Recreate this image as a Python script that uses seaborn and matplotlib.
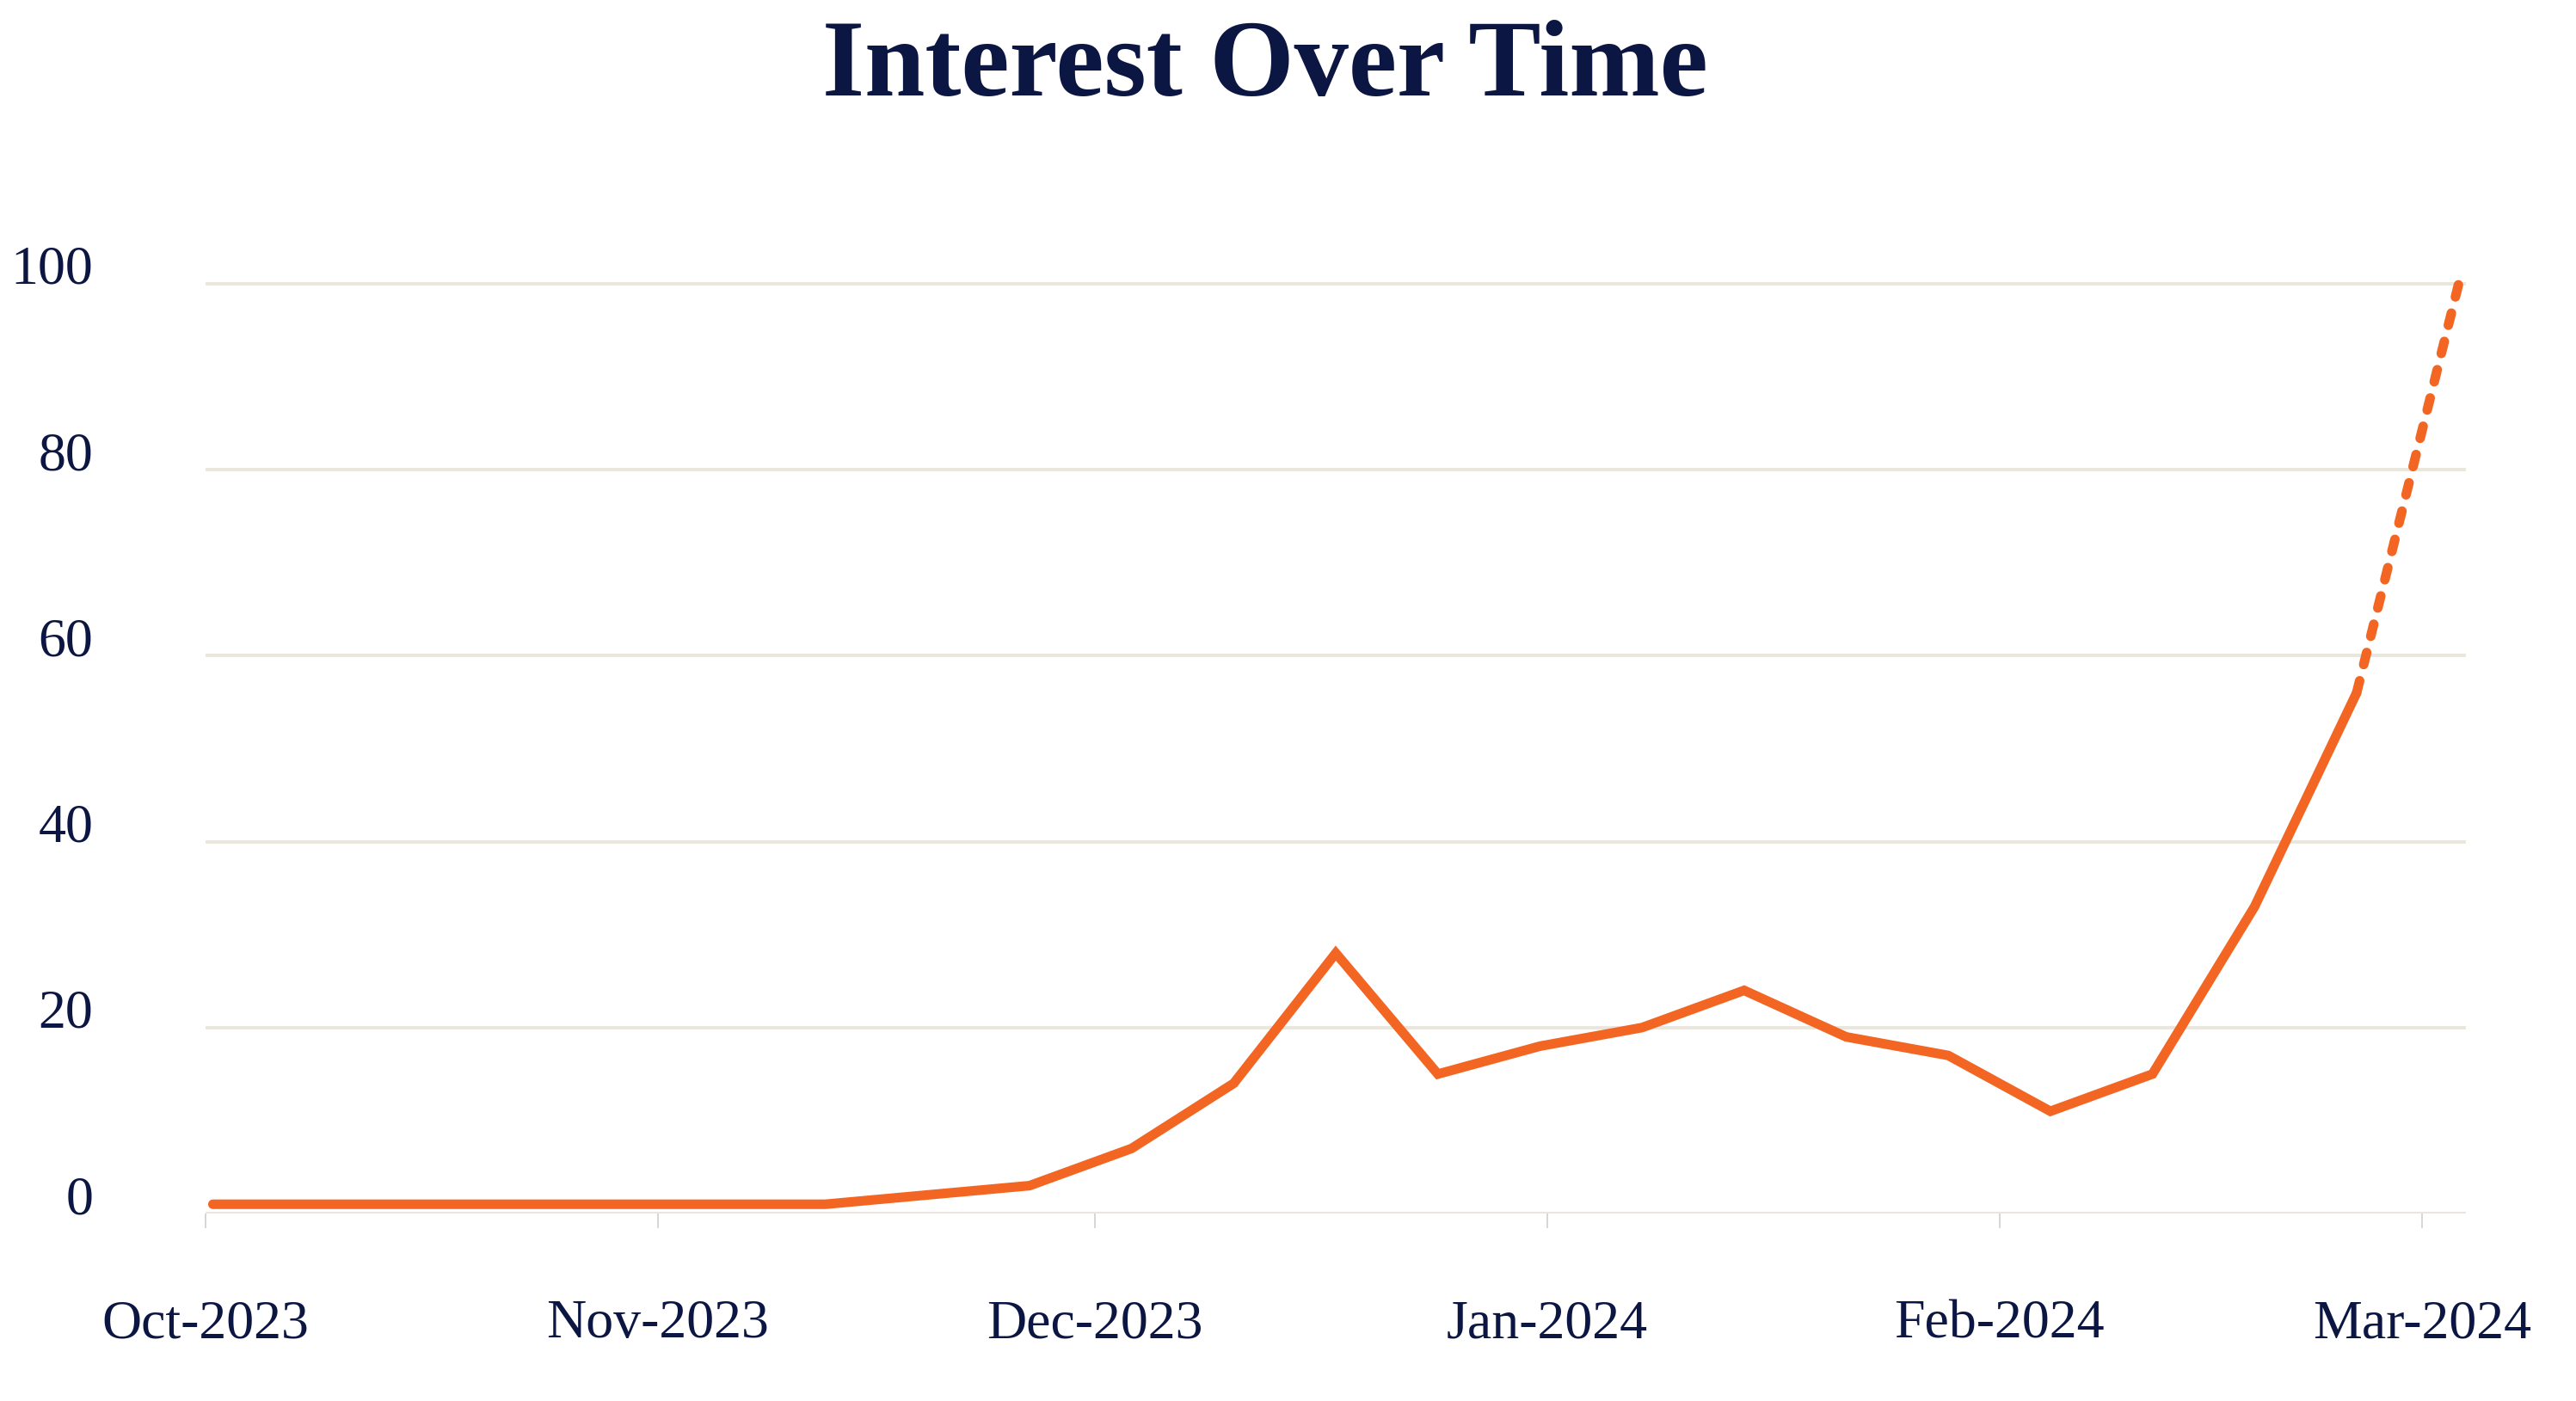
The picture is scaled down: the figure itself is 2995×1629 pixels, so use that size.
import matplotlib
matplotlib.use("Agg")
import matplotlib.pyplot as plt
import matplotlib.dates as mdates
import seaborn as sns
import pandas as pd

# weekly interest values (Sundays, plotted mid-day)
dates = pd.date_range("2023-10-01 12:00", "2024-03-03 12:00", freq="7D")
interest = [1, 1, 1, 1, 1, 1, 1, 2, 3, 7, 14, 28, 15, 18, 20, 24, 19, 17, 11, 15, 33, 56, 100]
month_ticks = pd.date_range("2023-10-01", "2024-03-01", freq="MS")

orange = "#F26522"
navy = "#0C1642"
grid_col = "#EBE6DC"

df = pd.DataFrame({"date": dates, "interest": interest})
solid = df.iloc[:-1]
partial = df.iloc[-2:]

sns.set_theme(style="white")
plt.rcParams["font.family"] = ["Liberation Serif", "DejaVu Serif"]

fig = plt.figure(figsize=(14.975, 8.145), dpi=200)
ax = fig.add_axes([0.0798, 0.1338, 0.8775, 0.677])

sns.lineplot(data=solid, x="date", y="interest", ax=ax, color=orange,
             linewidth=4.0, solid_capstyle="round", solid_joinstyle="miter")
sns.lineplot(data=partial, x="date", y="interest", ax=ax, color=orange,
             linewidth=4.0)
dash_line = ax.get_lines()[-1]
dash_line.set_linestyle((0, (1.3, 1.75)))
dash_line.set_dash_capstyle("round")
for ln in ax.get_lines():
    ln.set_clip_on(False)

ax.set_xlim(pd.Timestamp("2023-10-01"), pd.Timestamp("2024-03-04"))
ax.set_ylim(0, 102)
ax.set_yticks([0, 20, 40, 60, 80, 100])
ax.set_xticks(month_ticks)
ax.xaxis.set_major_formatter(mdates.DateFormatter("%b-%Y"))

ax.grid(axis="y", color=grid_col, linewidth=1.4)
ax.grid(axis="x", visible=False)
for s in ax.spines.values():
    s.set_visible(False)

ax.tick_params(axis="x", length=6, width=0.6, color="#CFCFCF", pad=30,
               labelsize=23, labelcolor=navy, bottom=True)
ax.tick_params(axis="y", length=0, pad=47, labelsize=23, labelcolor=navy)
for lab in ax.get_yticklabels():
    lab.set_verticalalignment("baseline")

ax.set_xlabel("")
ax.set_ylabel("")

fig.text(0.491, 0.9505, "Interest Over Time", ha="center", va="center",
         fontsize=45.5, fontweight="bold", color=navy)

plt.savefig("out.png", dpi=200)
plt.close()
